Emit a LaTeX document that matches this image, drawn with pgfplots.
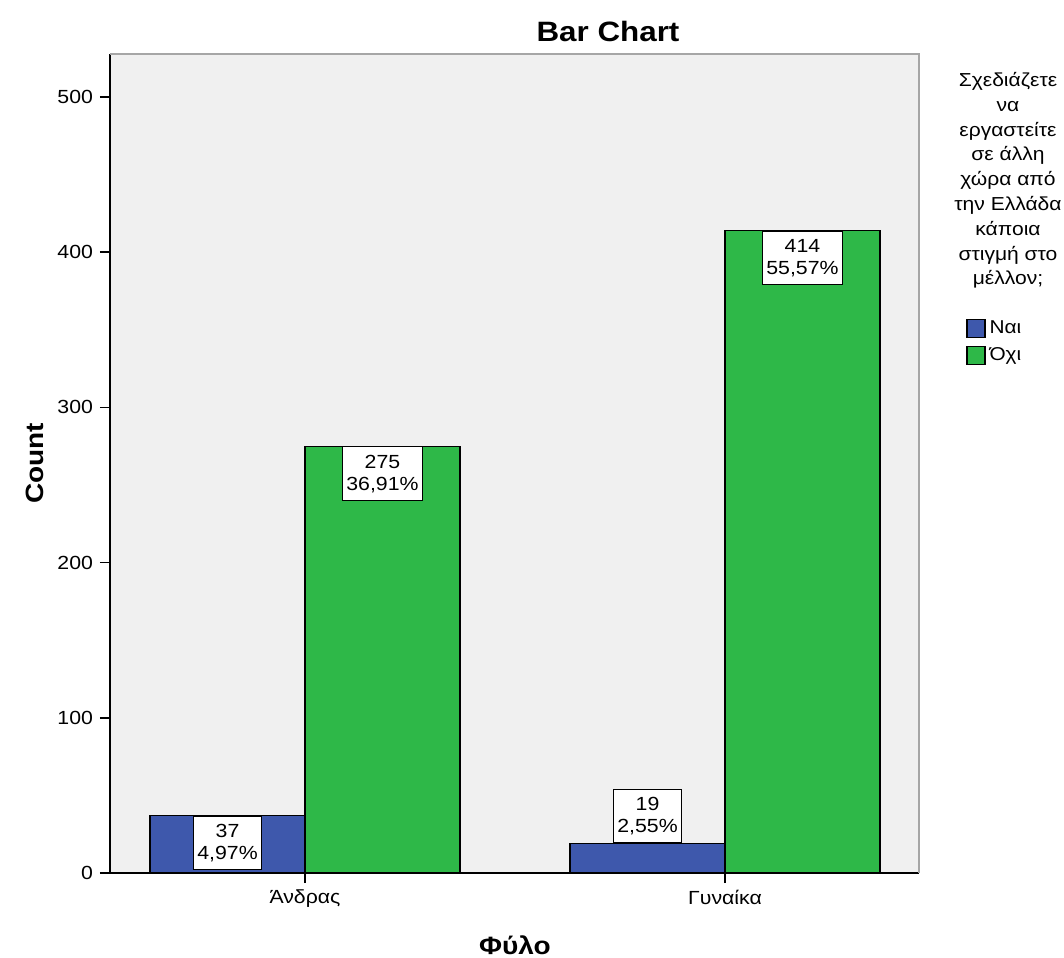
\documentclass[border=0pt]{standalone}
\usepackage{fontspec}
\setmainfont[FakeStretch=1.12]{Liberation Sans}
\usepackage{pgfplots}
\usepackage{pgfplotstable}
\pgfplotsset{compat=1.18}
\usetikzlibrary{calc}
\definecolor{spssblue}{HTML}{3E58AC}
\definecolor{spssgreen}{HTML}{2EB848}
\definecolor{bgGray}{HTML}{F0F0F0}

% count and percentage of total
\pgfplotstableread{
x y pct
0 37 4.97
1 19 2.55
}\nai
\pgfplotstableread{
x y pct
0 275 36.91
1 414 55.57
}\ochi

\pgfplotsset{barlabels/.style={
 point meta=explicit,
 visualization depends on={y \as \rawy},
 nodes near coords={\pgfmathprintnumber[fixed,precision=0]{\rawy}\\\pgfmathprintnumber[fixed,use comma,precision=2,fixed zerofill]{\pgfplotspointmeta}\%},
 every node near coord/.append style={/utils/exec={\pgfmathparse{\rawy<25}\ifnum\pgfmathresult=1 \def\myanc{south}\else\def\myanc{north}\fi}, anchor=\myanc, fill=white, draw=black, align=center, inner xsep=2pt, inner ysep=4pt, font=\fontsize{9.5}{11}\selectfont, line width=0.6pt},
}}

\begin{document}
\begin{tikzpicture}
\begin{axis}[name=ax, scale only axis, width=404.5pt, height=409.5pt,
 ybar=0pt, bar width=0.369,
 xmin=-0.4643, xmax=1.4619, ymin=0, ymax=527.7,
 xtick={0,1}, xticklabels={Άνδρας, Γυναίκα},
 ytick={0,100,...,500},
 axis lines*=left, axis line style={-, line width=1pt},
 tick align=outside, major tick length=5pt,
 tick style={black, line width=0.8pt},
 axis background/.style={fill=bgGray},
 /pgf/number format/assume math mode=true,
 tick label style={font=\fontsize{9.5}{10}\selectfont},
 clip=false,
 legend style={at={(rel axis cs:1.058,0.680)}, anchor=north west, draw=none, fill=none, font=\fontsize{9.3}{12}\selectfont, inner sep=0pt, row sep=1.5pt},
 legend cell align=left,
 legend image code/.code={\draw[#1, line width=0.6pt] (0pt,-4.5pt) rectangle (9pt,4.5pt);},
 ]
\addplot[fill=spssblue, draw=black, line width=0.6pt, barlabels] table[x=x,y=y,meta=pct]{\nai};
\addplot[fill=spssgreen, draw=black, line width=0.6pt, barlabels] table[x=x,y=y,meta=pct]{\ochi};
\legend{Ναι, Όχι}
\draw[gray!70, line width=1pt] (rel axis cs:0,1) -- (rel axis cs:1,1) -- (rel axis cs:1,0);
\node[font=\bfseries\fontsize{14}{14}\selectfont] at (rel axis cs:0.6156,1.027) {Bar Chart};
\node[rotate=90, font=\bfseries\fontsize{12.5}{12.5}\selectfont] at (rel axis cs:-0.0927,0.5) {Count};
\node[font=\bfseries\fontsize{12.5}{12.5}\selectfont] at (rel axis cs:0.5006,-0.0879) {Φύλο};
\node[align=center, anchor=north, inner sep=0pt, font=\fontsize{9.4}{12.4}\selectfont] at (rel axis cs:1.1100,0.978) {Σχεδιάζετε\\να\\εργαστείτε\\σε άλλη\\χώρα από\\την Ελλάδα\\κάποια\\στιγμή στο\\μέλλον;};
\end{axis}
\pgfresetboundingbox
\path[use as bounding box] ($(ax.south west)+(-55pt,-42pt)$) rectangle ($(ax.north east)+(72.5pt,27pt)$);
\end{tikzpicture}
\end{document}
